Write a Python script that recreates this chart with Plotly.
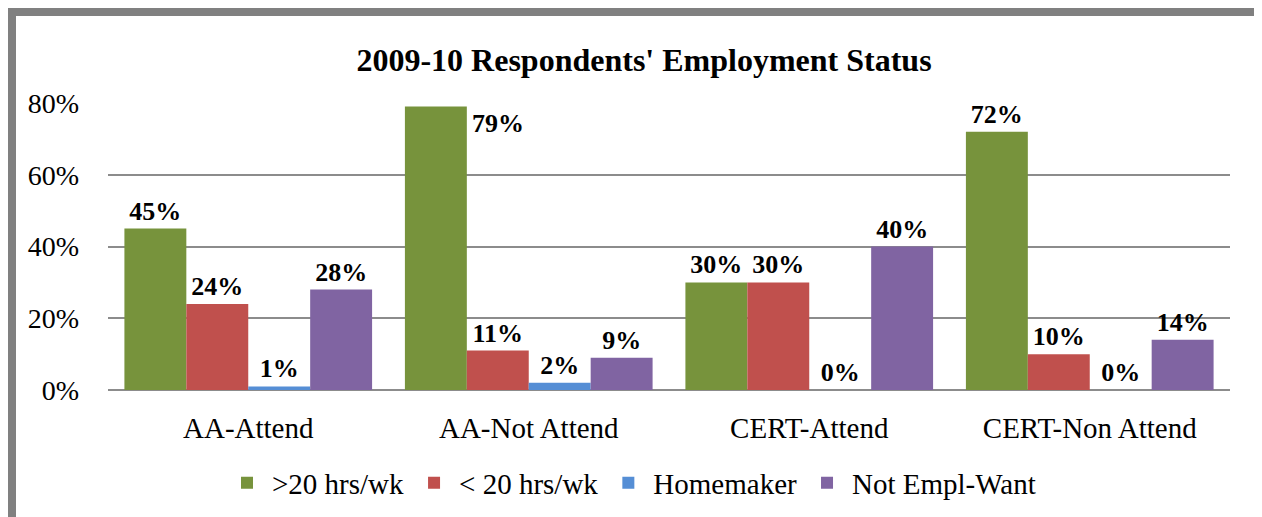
import plotly.graph_objects as go

categories = ["AA-Attend", "AA-Not Attend", "CERT-Attend", "CERT-Non Attend"]
series_names = [">20 hrs/wk", "< 20 hrs/wk", "Homemaker", "Not Empl-Want"]
over20 = [45, 79, 30, 72]
under20 = [24, 11, 30, 10]
homemaker = [1, 2, 0, 0]
not_empl_want = [28, 9, 40, 14]
y_ticks = [0, 20, 40, 60, 80]
title_text = "2009-10 Respondents' Employment Status"

colors = ["#77933C", "#C0504D", "#558ED5", "#8064A2"]
series_values = [over20, under20, homemaker, not_empl_want]

FONT = "Liberation Serif"
OFF = 8  # page body margin
W, H = 1262 - OFF, 517 - OFF
ML, MR, MT, MB = 108 - OFF, 32, 103 - OFF, 127
PW = W - ML - MR
PH = H - MT - MB
BARGAP = 0.117
n_series = len(series_values)
bar_w = PW / len(categories) * (1 - BARGAP) / n_series

fig = go.Figure()
annotations = []
for idx, (name, vals, col) in enumerate(zip(series_names, series_values, colors)):
    texts = []
    for cat, v in zip(categories, vals):
        # label that would overflow the top of the plot is placed beside the bar
        if v > 76:
            texts.append("")
            annotations.append(dict(x=cat, y=v, xref="x", yref="y", text=f"<b>{v}%</b>",
                                    showarrow=False,
                                    xshift=bar_w * (idx - (n_series - 1) / 2) + bar_w,
                                    yanchor="top", font=dict(family=FONT, size=26, color="black")))
        else:
            texts.append(f"<b>{v}%</b>")
    fig.add_trace(go.Bar(
        x=categories, y=vals, name=name,
        marker=dict(color=col, line=dict(width=0)),
        text=texts, textposition="outside", cliponaxis=False,
        textfont=dict(family=FONT, size=26, color="black"),
    ))

fig.update_layout(
    width=W, height=H,
    margin=dict(l=ML, r=MR, t=MT, b=MB, autoexpand=False),
    paper_bgcolor="white", plot_bgcolor="white",
    barmode="group", bargap=BARGAP, bargroupgap=0,
    title=dict(text=f"<b>{title_text}</b>", x=(644 - OFF) / W, xref="container", xanchor="center",
               y=1 - (60 - OFF) / H, yref="container", yanchor="middle",
               font=dict(family=FONT, size=32, color="black")),
    font=dict(family=FONT, color="black"),
    showlegend=True,
    legend=dict(orientation="h", x=(222 - OFF) / W, xref="container", xanchor="left",
                y=1 - (483 - OFF) / H, yref="container", yanchor="middle",
                font=dict(family=FONT, size=29, color="black"),
                itemwidth=40, traceorder="normal"),
    annotations=annotations,
)
fig.update_yaxes(range=[0, 80], tickvals=y_ticks, ticktext=[f"{t}%" for t in y_ticks],
                 showgrid=True, gridcolor="#8c8c8c", gridwidth=2,
                 zeroline=True, zerolinecolor="#8c8c8c", zerolinewidth=2,
                 ticks="", ticklabelstandoff=28, showline=False, automargin=False,
                 tickfont=dict(family=FONT, size=28, color="black"))
fig.update_xaxes(showgrid=False, ticks="", ticklabelstandoff=18, showline=False, automargin=False,
                 tickfont=dict(family=FONT, size=29, color="black"))

# gray frame around the chart (in page pixels, converted to paper coords)
def px_x(p):
    return (p - 108) / PW

def px_y(p):
    return (PH - (p - 103)) / PH

fig.add_shape(type="rect", xref="paper", yref="paper",
              x0=px_x(12), x1=px_x(1259), y0=px_y(545), y1=px_y(12),
              line=dict(color="#808080", width=8), fillcolor="rgba(0,0,0,0)", layer="above")

fig.write_html("out.html")
